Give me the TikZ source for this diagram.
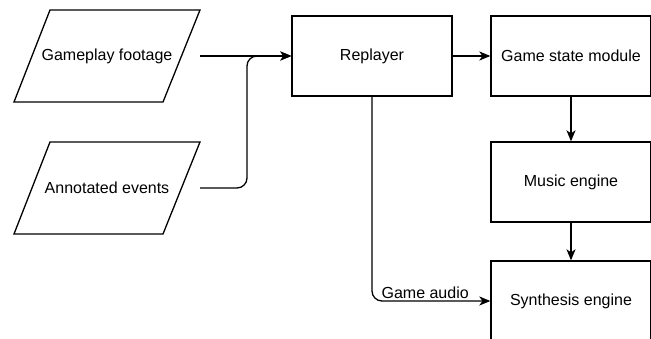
\documentclass[tikz,border=0pt]{standalone}
\usepackage{fontspec}
\setmainfont{Liberation Sans}
\usetikzlibrary{arrows.meta}
\begin{document}
\begin{tikzpicture}[x=1pt,y=-1pt, line width=1.3pt,
  lbl/.style={font=\fontsize{16}{19}\selectfont},
  box/.style={lbl, draw, minimum width=160pt, minimum height=80pt, inner sep=0pt},
  para/.style={lbl, minimum width=186pt, minimum height=92pt, inner sep=0pt, outer sep=0pt},
  arr/.style={-{Stealth[length=11pt,width=9pt,inset=3pt]}}]
\useasboundingbox (0,0) rectangle (651,339);
\node[para] (gf) at (107,56) {Gameplay footage};
\draw ([xshift=36pt]gf.north west) -- (gf.north east) -- ([xshift=-37pt]gf.south east) -- (gf.south west) -- cycle;
\node[para] (ae) at (107,188) {Annotated events};
\draw ([xshift=36pt]ae.north west) -- (ae.north east) -- ([xshift=-37pt]ae.south east) -- (ae.south west) -- cycle;
\node[box] (rep) at (372,56) {Replayer};
\node[box] (gs) at (571,56) {Game state module};
\node[box] (me) at (571,182) {Music engine};
\node[box] (se) at (571,301) {Synthesis engine};
\coordinate (j) at (247,56);
\draw[arr] (gf.east) -- (rep.west);
\draw[arr, rounded corners=10pt] (ae.east) -| (j) -- (rep.west);
\draw[arr] (rep.east) -- (gs.west);
\draw[arr] (gs.south) -- (me.north);
\draw[arr] (me.south) -- (se.north);
\draw[arr, rounded corners=10pt] (rep.south) |- node[lbl, above, pos=0.75, xshift=-6pt, inner sep=2pt] {Game audio} (se.west);
\end{tikzpicture}
\end{document}
